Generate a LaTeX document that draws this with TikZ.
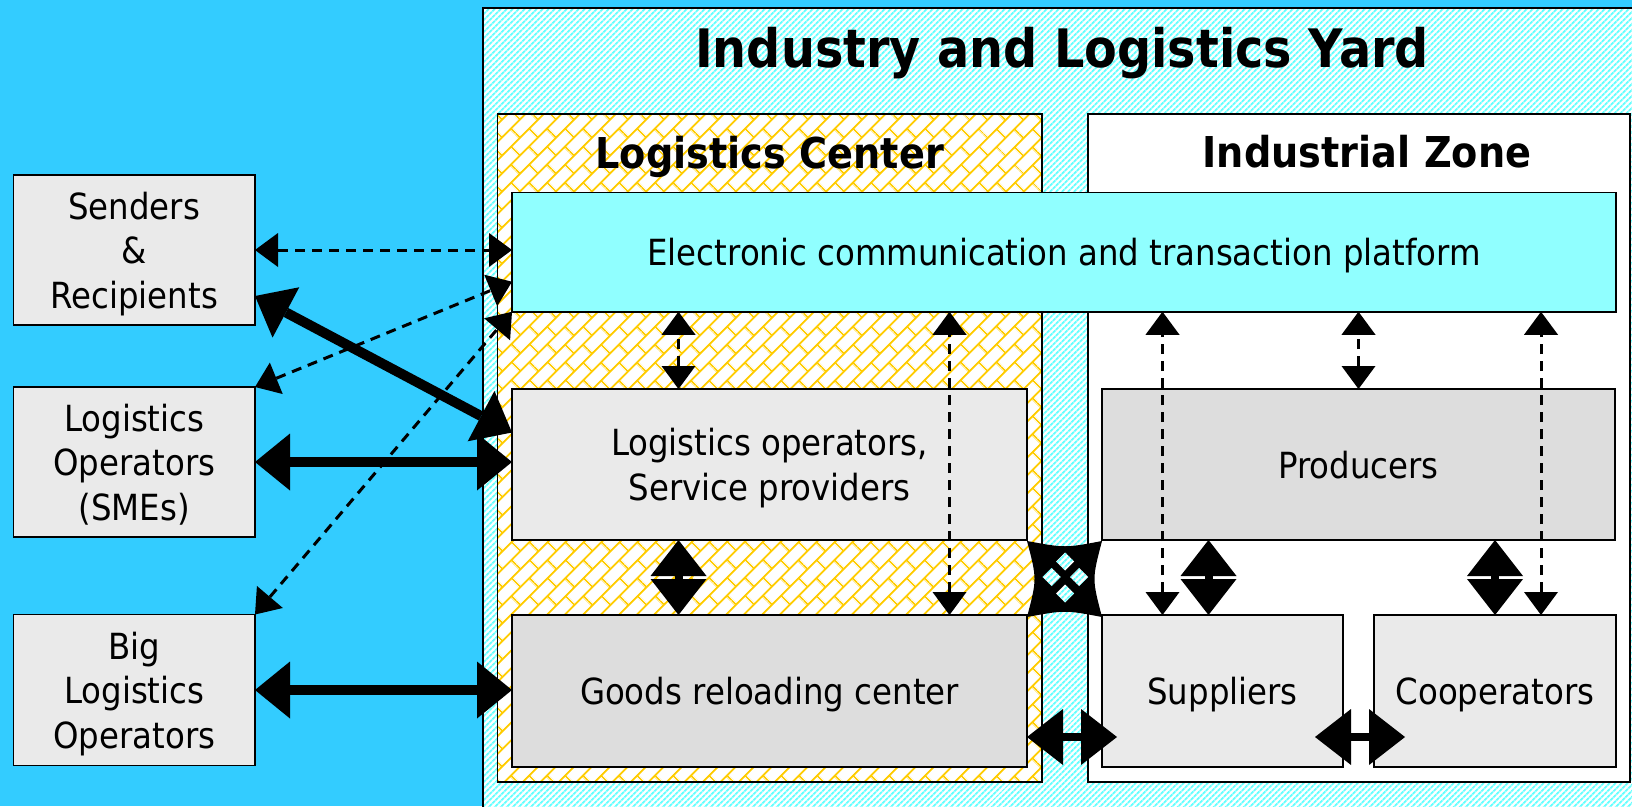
\documentclass[tikz,border=0pt]{standalone}
\usepackage{fontspec}
\setmainfont{DejaVu Sans}[FakeStretch=0.9]
\usetikzlibrary{arrows.meta,patterns.meta,calc}

\definecolor{sky}{HTML}{33CCFF}
\definecolor{yardcyan}{HTML}{66FFFF}
\definecolor{brickyellow}{HTML}{FFCC00}
\definecolor{platformcyan}{HTML}{90FFFF}
\definecolor{boxgrey}{HTML}{EAEAEA}
\definecolor{boxdark}{HTML}{DDDDDD}

\newcommand{\boxfont}{\fontsize{36}{44.5}\selectfont}

% slanted brick wall for the logistics center
\tikzdeclarepattern{
  name=slantbricks,
  type=uncolored,
  bounding box={(0pt,0pt) and (26pt,26pt)},
  tile size={(26pt,26pt)},
  tile transformation={rotate=45},
  code={
    \draw[line width=2pt] (0pt,6.5pt) -- (26pt,6.5pt) (0pt,19.5pt) -- (26pt,19.5pt)
      (6.5pt,6.5pt) -- (6.5pt,19.5pt) (19.5pt,19.5pt) -- (19.5pt,26pt) (19.5pt,0pt) -- (19.5pt,6.5pt);
  }
}

\tikzset{
    grey-box/.style = {draw=black, fill=boxgrey, line width=1.5pt, rectangle, inner sep=0pt, outer sep=0pt, align=center, font=\boxfont, text depth=0pt},
    dark-box/.style = {grey-box, fill=boxdark},
    zone-box/.style = {draw=black, line width=1.5pt, rectangle, inner sep=0pt, outer sep=0pt, fill=white},
    yard-hatch/.style = {preaction={fill=white}, pattern={Lines[angle=45,distance=4pt,line width=2pt]}, pattern color=yardcyan},
    yard-title/.style = {font=\fontsize{53}{60}\selectfont\bfseries},
    zone-title/.style = {font=\fontsize{42.5}{50}\selectfont\bfseries},
    dash-arrow/.style = {line width=3pt, dash pattern=on 10pt off 7pt, >={Triangle[length=23pt,width=34pt,line width=0pt]}, <->},
    thick-arrow/.style = {line width=10pt, >={Triangle[length=35pt,width=57pt,line width=0pt]}, <->},
    block-arrow/.style = {line width=8pt, >={Triangle[length=36pt,width=56pt,line width=0pt]}, <->},
}

\begin{document}
\begin{tikzpicture}[x=1pt,y=-1pt]
\useasboundingbox (0,0) rectangle (1632,806);
\clip (0,0) rectangle (1632,806);
\fill[sky] (0,0) rectangle (1632,806);

% the yard and its two zones
\draw[yard-hatch, draw=black, line width=2pt] (483,8) rectangle (1650,830);
\node[yard-title, anchor=base] (yardtitle) at (1062,67) {Industry and Logistics Yard};

\node[zone-box, minimum width=544.5pt, minimum height=668pt, pattern=slantbricks, pattern color=brickyellow, preaction={fill=white}] (logcenter) at (769.75,448) {};
\node[zone-title, anchor=base] (lctitle) at ([yshift=-54pt]logcenter.north) {Logistics Center};
\node[zone-box, minimum width=542pt, minimum height=668pt] (indzone) at (1359,448) {};
\node[zone-title, anchor=base] (iztitle) at ([xshift=8pt,yshift=-53pt]indzone.north) {Industrial Zone};

\node[grey-box, fill=platformcyan, minimum width=1104pt, minimum height=119.5pt] (platform) at (1064,252) {Electronic communication and transaction platform};

% actors outside the yard
\node[grey-box, minimum width=241.5pt, minimum height=150pt] (senders) at (134.25,250) {Senders\\\&\\Recipients};
\node[grey-box, minimum width=241.5pt, minimum height=150pt] (smes) at (134.25,462) {Logistics\\Operators\\(SMEs)};
\node[grey-box, minimum width=241.5pt, minimum height=151pt] (big) at (134.25,690) {Big\\Logistics\\Operators};

% inside the zones
\node[grey-box, minimum width=515pt, minimum height=151pt] (logop) at (769.5,464.5) {Logistics operators,\\Service providers};
\node[dark-box, minimum width=515pt, minimum height=152pt] (goods) at (769.5,691) {Goods reloading center};
\node[dark-box, minimum width=513pt, minimum height=151pt] (producers) at (1358.5,464.5) {Producers};
\node[grey-box, minimum width=241pt, minimum height=152pt] (suppliers) at (1222.5,691) {Suppliers};
\node[grey-box, minimum width=242pt, minimum height=152pt] (cooperators) at (1495,691) {Cooperators};

% crossing between the two zones
\fill[black] (1027,541) .. controls (1065,548) .. (1102,541) .. controls (1092,579) .. (1102,617)
  .. controls (1065,610) .. (1027,617) .. controls (1037,579) .. cycle;
\foreach \cx/\cy in {1065/561.5, 1051.5/577, 1079/577, 1065/593.5}
  \path[yard-hatch] (\cx,\cy-9) -- (\cx+9,\cy) -- (\cx,\cy+9) -- (\cx-9,\cy) -- cycle;

% information flows
\draw[dash-arrow] (senders.east) -- (senders.east -| platform.west);
\draw[dash-arrow] (smes.north east) -- ($(platform.south west)+(0,-30)$);
\draw[dash-arrow] (big.north east) -- (platform.south west);
\draw[dash-arrow] ($(logop.north)+(-91,0)$) -- ($(logop.north |- platform.south)+(-91,0)$);
\draw[dash-arrow] ($(goods.north)+(180,0)$) -- ($(goods.north |- platform.south)+(180,0)$);
\draw[dash-arrow] ($(suppliers.north)+(-60,0)$) -- ($(suppliers.north |- platform.south)+(-60,0)$);
\draw[dash-arrow] (producers.north) -- (producers.north |- platform.south);
\draw[dash-arrow] ($(cooperators.north)+(46,0)$) -- ($(cooperators.north |- platform.south)+(46,0)$);

% goods flows
\draw[thick-arrow] ($(senders.east)+(0,46)$) -- ($(logop.west)+(0,-32)$);
\draw[thick-arrow] (smes.east) -- (smes.east -| logop.west);
\draw[thick-arrow] (big.east) -- (big.east -| goods.west);
\draw[block-arrow] ($(logop.south)+(-91,0)$) -- ($(goods.north)+(-91,0)$);
\draw[block-arrow] ($(suppliers.north)+(-14,0)$) -- ($(producers.south -| suppliers.north)+(-14,0)$);
\draw[block-arrow] (cooperators.north) -- (cooperators.north |- producers.south);
\draw[block-arrow] ($(goods.east)+(0,46)$) -- ($(suppliers.west)+(15,46)$);
\draw[block-arrow] ($(suppliers.east)+(-28,46)$) -- ($(cooperators.west)+(31,46)$);
\end{tikzpicture}
\end{document}
